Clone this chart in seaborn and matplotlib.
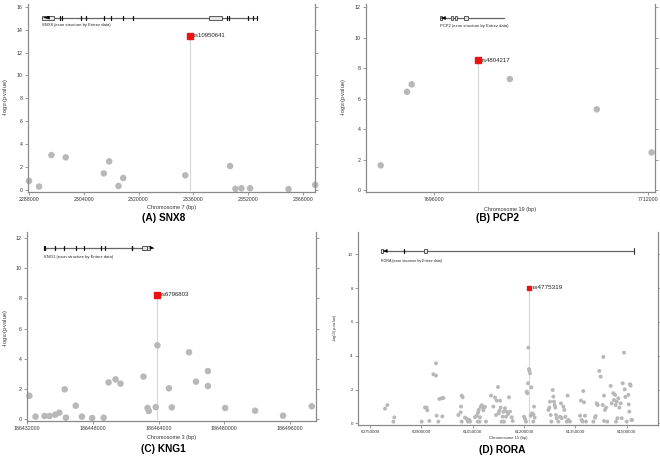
import matplotlib
matplotlib.use("Agg")
import matplotlib.pyplot as plt
import seaborn as sns
import numpy as np
import pandas as pd
from matplotlib.patches import Rectangle, Polygon

# 1 Data

# (A) SNX8, chromosome 7
snx8_pos = [2288100, 2291020, 2294620, 2298800, 2309890, 2311450, 2314170, 2315540,
            2333630, 2346670, 2348230, 2349980, 2352510, 2363700, 2371480]
snx8_logp = [0.79, 0.30, 3.05, 2.85, 1.45, 2.50, 0.35, 1.05,
             1.28, 2.09, 0.10, 0.15, 0.15, 0.08, 0.45]
snx8_lead = ("rs10950641", 2335000, 13.46)
snx8_ticks = [2288000, 2304000, 2320000, 2336000, 2352000, 2368000]
snx8_gene = dict(start=2291990, end=2354650, y=15.05, label_y=14.45,
                 bars=[2297240, 2297830, 2303370, 2304640, 2309890, 2311940, 2315340,
                       2318450, 2345700, 2346480, 2352020, 2353290, 2354460],
                 boxes=[(2291990, 2295300), (2340640, 2344240)],
                 arrow=(2294100, 2292300),
                 label="SNX8 (exon structure by Entrez data)")

# (B) PCP2, chromosome 19
pcp2_pos = [7691990, 7693960, 7694310, 7701650, 7708150, 7712250]
pcp2_logp = [1.62, 6.45, 6.94, 7.29, 5.30, 2.47]
pcp2_lead = ("rs4804217", 7699290, 8.51)
pcp2_ticks = [7696000, 7712000]
pcp2_gene = dict(start=7696420, end=7701230, y=11.3, label_y=10.77,
                 bars=[],
                 boxes=[(7696420, 7696560), (7697220, 7697370), (7697540, 7697670), (7698240, 7698540)],
                 arrow=(7696850, 7696500),
                 label="PCP2 (exon structure by Entrez data)")

# (C) KNG1, chromosome 3
kng1_pos = [186432500, 186434000, 186436200, 186437400, 186438800, 186439800, 186441100,
            186441400, 186443800, 186445300, 186447800, 186450600, 186451800, 186453500,
            186454700, 186460300, 186461300, 186461600, 186463300, 186463700, 186466500,
            186467200, 186471400, 186473100, 186476000, 186476000, 186480200, 186487500,
            186494300, 186501300]
kng1_logp = [1.56, 0.18, 0.22, 0.22, 0.31, 0.44, 1.98,
             0.11, 0.90, 0.18, 0.09, 0.11, 2.44, 2.64,
             2.36, 2.82, 0.75, 0.55, 0.81, 4.89, 2.05,
             0.79, 4.43, 2.49, 3.19, 2.20, 0.75, 0.57,
             0.24, 0.86]
kng1_lead = ("rs6796803", 186463700, 8.21)
kng1_ticks = [186432000, 186448000, 186464000, 186480000, 186496000]
kng1_gene = dict(start=186436140, end=186462690, y=11.34, label_y=10.7,
                 bars=[186436000, 186436250, 186438740, 186441010, 186443860, 186445890,
                       186449950, 186451000, 186457400, 186457600],
                 boxes=[(186459850, 186461070), (186461070, 186461880)],
                 arrow=(186461880, 186462690),
                 label="KNG1 (exon structure by Entrez data)")

# (D) RORA, chromosome 15 (positions in kb)
rora_pos_kb = [60793.8, 60800.6, 60818.2, 60821.1,
               60901.0, 60910.7, 60915.6, 60917.5, 60923.4, 60935.1, 60942.9, 60942.9,
               60944.8, 60949.7, 60952.6, 60959.4, 60964.3, 60961.4,
               61008.1, 61014.9, 61015.9, 61017.9, 61020.8, 61017.9, 61027.6, 61032.5,
               61036.4, 61040.3, 61042.2,
               61056.8, 61061.7, 61065.6, 61067.5, 61070.4, 61073.4, 61076.3, 61079.2,
               61081.2, 61083.1, 61086.0, 61088.9, 61071.4, 61064.6,
               61103.6, 61110.4, 61115.3, 61118.2, 61120.1, 61124.0, 61126.0, 61127.9,
               61129.9, 61131.8, 61134.7, 61137.7, 61139.6, 61141.5, 61144.5, 61147.4,
               61149.3, 61153.2, 61156.2, 61159.1, 61164.0, 61166.9,
               61200.0, 61202.9, 61205.8, 61207.8, 61209.7, 61211.7, 61212.7, 61214.6,
               61215.6, 61217.5, 61219.5, 61221.4, 61223.4, 61227.3, 61229.2, 61231.2,
               61227.3,
               61271.1, 61274.0, 61276.0, 61277.9, 61279.9, 61283.8, 61285.7, 61287.6,
               61289.6, 61291.5, 61293.5, 61295.4, 61300.3, 61305.2, 61308.1, 61310.0,
               61314.9, 61317.8, 61320.8, 61324.7, 61327.6, 61329.5, 61334.4,
               61363.6, 61366.5, 61368.5, 61371.4, 61373.4, 61375.3, 61378.2, 61381.2,
               61402.6, 61407.5, 61409.4, 61412.3, 61415.2, 61420.1, 61424.0, 61429.9,
               61431.8, 61433.7, 61433.7, 61436.7, 61439.6, 61443.5, 61453.2, 61456.2,
               61461.0, 61463.0, 61465.9, 61467.8, 61468.8, 61470.8, 61472.7, 61475.6,
               61478.6, 61482.4, 61485.4, 61488.3, 61492.2, 61494.1, 61496.1, 61500.0,
               61504.9, 61505.8, 61507.8, 61509.7, 61511.7, 61513.6, 61515.6]
rora_logp = [0.87, 1.08, 0.10, 0.35,
             0.10, 0.93, 0.93, 0.77, 0.14, 2.90, 3.55, 2.82,
             0.45, 0.10, 1.44, 1.48, 1.50, 0.41,
             0.49, 0.65, 0.99, 1.64, 1.54, 0.10, 0.34, 0.26,
             0.10, 0.20, 0.10,
             0.36, 0.45, 0.63, 0.79, 0.10, 0.97, 1.07, 0.99,
             0.77, 0.91, 0.97, 0.10, 0.36, 0.10,
             1.64, 0.99, 1.52, 0.49, 1.34, 2.15, 0.59, 0.75,
             1.34, 0.93, 0.10, 0.39, 0.69, 0.10, 0.89, 0.39,
             0.69, 0.55, 1.54, 0.69, 0.36, 0.14,
             0.39, 0.26, 0.10, 1.87, 1.78, 2.37, 4.48, 3.21,
             3.10, 2.96, 0.45, 2.13, 0.59, 0.53, 0.99, 0.34,
             0.10,
             0.79, 0.93, 1.28, 0.49, 0.10, 1.97, 1.58, 1.28,
             1.08, 0.93, 0.49, 0.30, 0.10, 0.39, 1.18, 0.30,
             0.99, 0.79, 0.39, 0.10, 1.64, 0.20, 0.10,
             0.45, 1.34, 0.20, 0.10, 1.91, 1.24, 0.45, 0.10,
             0.10, 0.34, 0.43, 1.18, 1.08, 3.10, 2.76, 1.08,
             3.93, 1.64, 0.14, 0.79, 0.93, 0.10, 2.21, 1.18,
             1.78, 1.38, 1.68, 1.08, 0.10, 1.28, 0.30, 1.48,
             0.93, 1.18, 0.30, 2.37, 4.18, 2.01, 1.56, 0.10,
             1.68, 1.12, 0.69, 2.31, 2.23, 0.20, 0.20]
rora_lead = ("rs4775319", 61214600, 8.03)
rora_ticks = [60750000, 60900000, 61050000, 61200000, 61350000, 61500000]
rora_gene = dict(start=60781170, end=61521400, y=10.2, label_y=9.62,
                 bars=[60849350],
                 boxes=[(60781170, 60788960), (60907790, 60917530)],
                 arrow=(60800650, 60788960), end_cap=61521400,
                 label="RORA (exon structure by Entrez data)")

GRAY = "#b8b8b8"
RED = "#ee1111"
SPINE = "#8a8a8a"

sns.set_style("white")
plt.rcParams["font.family"] = ["Liberation Sans", "DejaVu Sans"]


# 2 Helpers

def px_to_y(ax, px):
    lo, hi = ax.get_ylim()
    return px * (hi - lo) / ax.bbox.height


def draw_gene(ax, g, fs):
    y = g["y"]
    hb = px_to_y(ax, 2.0)
    ax.plot([g["start"], g["end"]], [y, y], color="#666666", lw=0.9, zorder=2)
    for b in g["bars"]:
        ax.plot([b, b], [y - hb, y + hb], color="#111111", lw=0.9, zorder=3)
    for x0, x1 in g["boxes"]:
        ax.add_patch(Rectangle((x0, y - hb), x1 - x0, 2 * hb, facecolor="#e4e4e4",
                               edgecolor="#444444", lw=0.6, zorder=3))
    base, tip = g["arrow"]
    ha = px_to_y(ax, 1.5)
    ax.add_patch(Polygon([(tip, y), (base, y + ha), (base, y - ha)], closed=True,
                         facecolor="black", edgecolor="black", lw=0.3, zorder=4))
    if "end_cap" in g:
        hc = px_to_y(ax, 2.6)
        ax.plot([g["end_cap"]] * 2, [y - hc, y + hc], color="#333333", lw=0.8, zorder=3)
    ax.text(g["start"], g["label_y"], g["label"], fontsize=fs, color="#222222",
            ha="left", va="center")


def draw_panel(ax, pos, logp, lead, gene, xlim, ylim, xticks, yticks, sizes):
    ms, lead_ms, tick_fs, ann_fs, gene_fs = sizes
    ax.set_xlim(xlim)
    ax.set_ylim(ylim)
    name, lx, ly = lead
    ax.plot([lx, lx], [0, ly], color="#d6d6d6", lw=0.8, zorder=1)
    df = pd.DataFrame({"pos": pos, "logp": logp})
    sns.scatterplot(data=df, x="pos", y="logp", ax=ax, color=GRAY, s=ms,
                    edgecolor="none", linewidth=0, zorder=2, clip_on=False)
    ax.plot([lx], [ly], marker="s", color=RED, markersize=lead_ms, zorder=5,
            linestyle="none")
    ax.annotate(name, (lx, ly), xytext=(2.6, 0.3), textcoords="offset points",
                fontsize=ann_fs, ha="left", va="center", color="#222222")
    draw_gene(ax, gene, gene_fs)

    ax.set_xticks(xticks)
    ax.set_xticklabels([str(t) for t in xticks])
    ax.set_yticks(yticks)
    ax.set_yticklabels([str(t) for t in yticks])
    ax.tick_params(axis="both", labelsize=tick_fs, colors="#333333", length=2.2,
                   width=0.6, direction="out", pad=1.5, color=SPINE)
    ax.tick_params(axis="y", right=True, left=True)
    ax.tick_params(axis="x", bottom=True)
    ax.set_xlabel("")
    ax.set_ylabel("")
    for side in ["left", "bottom", "right"]:
        ax.spines[side].set_visible(True)
        ax.spines[side].set_color(SPINE)
        ax.spines[side].set_linewidth(0.9)
    ax.spines["top"].set_visible(False)


def rect(l, r, t, b):
    W, H = 660.0, 458.0
    return [l / W, 1 - b / H, (r - l) / W, (b - t) / H]


# 3 Figure

fig = plt.figure(figsize=(6.6, 4.58), dpi=100)
W, H = 660.0, 458.0

axA = fig.add_axes(rect(28, 315, 4, 192))
axB = fig.add_axes(rect(366, 655, 4, 191.7))
axC = fig.add_axes(rect(26.7, 316, 232, 421))
axD = fig.add_axes(rect(358, 658, 232, 425))

big = (22, 4.0, 3.8, 4.3, 3.0)
draw_panel(axA, snx8_pos, snx8_logp, snx8_lead, snx8_gene,
           (2287800, 2371410), (-0.175, 16.24), snx8_ticks, list(range(0, 17, 2)), big)
draw_panel(axB, pcp2_pos, pcp2_logp, pcp2_lead, pcp2_gene,
           (7690893, 7712501), (-0.11, 12.22), pcp2_ticks, list(range(0, 13, 2)), big)
draw_panel(axC, kng1_pos, kng1_logp, kng1_lead, kng1_gene,
           (186431850, 186502334), (-0.11, 12.38), kng1_ticks, list(range(0, 13, 2)), big)
rora_pos = [int(round(p * 1000)) for p in rora_pos_kb]
draw_panel(axD, rora_pos, rora_logp, rora_lead, rora_gene,
           (60714930, 61591470), (-0.1, 11.32), rora_ticks, list(range(0, 11, 2)),
           (8, 3.4, 3.2, 4.6, 2.6))

# axis labels and captions
xlabels = [("Chromosome 7 (bp)", 171.5, 208, 4.0), ("Chromosome 19 (bp)", 510.5, 209, 4.0),
           ("Chromosome 3 (bp)", 171.4, 437, 4.0), ("Chromosome 15 (bp)", 508, 438, 3.0)]
for txt, x, y, fs in xlabels:
    fig.text(x / W, 1 - y / H, txt, fontsize=fs, ha="center", va="center", color="#333333")

ylabels = [(5, 97, 4.0), (343, 97, 4.0), (5, 328, 4.0), (335, 328, 3.0)]
for x, y, fs in ylabels:
    fig.text(x / W, 1 - y / H, r"-log$_{10}$(p-value)", fontsize=fs, rotation=90,
             ha="center", va="center", color="#333333")

captions = [("(A) SNX8", 164, 218), ("(B) PCP2", 497, 218),
            ("(C) KNG1", 163, 449), ("(D) RORA", 502, 450)]
for txt, x, y in captions:
    fig.text(x / W, 1 - y / H, txt, fontsize=7.3, fontweight="bold", ha="center",
             va="center", color="black")

fig.savefig("out.png", dpi=100)
